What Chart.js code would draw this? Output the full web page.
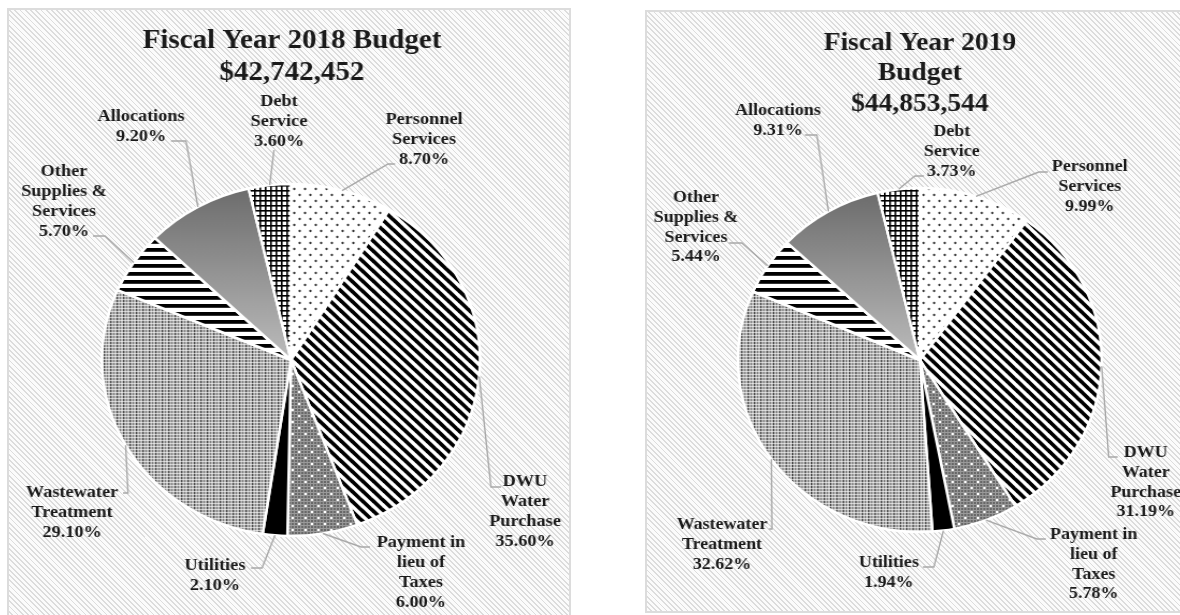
<!DOCTYPE html>
<html>
<head>
<meta charset="utf-8">
<title>Fiscal Year Budgets</title>
<script src="https://cdn.jsdelivr.net/npm/chart.js@4.4.1/dist/chart.umd.min.js"></script>
<style>
  html, body { margin: 0; padding: 0; background: #fff; width: 1180px; height: 615px; overflow: hidden; position: relative; }
  .panel {
    position: absolute; box-sizing: border-box; border: 2px solid #dcdcdc;
    background: repeating-linear-gradient(45deg, #fbfbfb 0px, #fbfbfb 2.4px, #dcdcdc 2.4px, #dcdcdc 3.7px);
  }
  canvas { position: absolute; }
</style>
</head>
<body>
<div class="panel" style="left:7px; top:8px; width:564px; height:620px;"></div>
<div class="panel" style="left:645px; top:10px; width:580px; height:603px;"></div>
<canvas id="fy2018"></canvas>
<canvas id="fy2019"></canvas>
<script>
// Budget categories, clockwise from twelve o'clock
const categories = [
  'Personnel Services', 'DWU Water Purchase', 'Payment in lieu of Taxes', 'Utilities',
  'Wastewater Treatment', 'Other Supplies & Services', 'Allocations', 'Debt Service'
];
// How each category name wraps in its data label
const labelLines = [
  ['Personnel', 'Services'], ['DWU', 'Water', 'Purchase'], ['Payment in', 'lieu of', 'Taxes'],
  ['Utilities'], ['Wastewater', 'Treatment'], ['Other', 'Supplies &', 'Services'],
  ['Allocations'], ['Debt', 'Service']
];
// Share of the total budget, percent
const share2018 = [8.70, 35.60, 6.00, 2.10, 29.10, 5.70, 9.20, 3.60];
const share2019 = [9.99, 31.19, 5.78, 1.94, 32.62, 5.44, 9.31, 3.73];
// Chart headings
const title2018 = ['Fiscal Year 2018 Budget', '$42,742,452'];
const title2019 = ['Fiscal Year 2019', 'Budget', '$44,853,544'];

// Label placement: offsets (px) of each label and its leader bend from the pie centre
const layout2018 = [
  { at: [133, -240], bend: [97, -196], end: [104, -196] },
  { at: [234, 122], bend: [200, 127], end: [210, 127] },
  { at: [130, 183], bend: [70, 187], end: [79, 187] },
  { at: [-76, 206], bend: [-29, 208], end: [-40, 208] },
  { at: [-219, 133], bend: [-163, 133], end: [-168, 133] },
  { at: [-227, -188], bend: [-186, -124], end: [-198, -124] },
  { at: [-150, -243], bend: [-105, -219], end: [-120, -219] },
  { at: [-12, -258], bend: [-17, -210], end: [-17, -210] }
];
const layout2019 = [
  { at: [170, -193], bend: [119, -188], end: [128, -188] },
  { at: [226, 93], bend: [189, 97], end: [198, 97] },
  { at: [174, 175], bend: [117, 179], end: [126, 179] },
  { at: [-31, 203], bend: [14, 207], end: [3, 207] },
  { at: [-198, 165], bend: [-148, 169], end: [-151, 169] },
  { at: [-224, -162], bend: [-178, -117], end: [-191, -117] },
  { at: [-142, -249], bend: [-103, -225], end: [-115, -225] },
  { at: [32, -228], bend: [-5, -184], end: [4, -184] }
];

function tile(w, h, paint) {
  const c = document.createElement('canvas');
  c.width = w; c.height = h;
  const g = c.getContext('2d');
  paint(g, w, h);
  return c;
}

// Monochrome fills for the slices
function makeFills(ctx, cx, cy, r) {
  const dots = tile(10, 12, (g) => {
    g.fillStyle = '#ffffff'; g.fillRect(0, 0, 10, 12);
    g.fillStyle = '#333333';
    g.beginPath(); g.arc(2.5, 3, 1.15, 0, Math.PI * 2); g.fill();
    g.beginPath(); g.arc(7.5, 9, 1.15, 0, Math.PI * 2); g.fill();
  });
  const diag = tile(10, 10, (g) => {
    g.fillStyle = '#ffffff'; g.fillRect(0, 0, 10, 10);
    g.strokeStyle = '#000000'; g.lineWidth = 3.7;
    for (const s of [-10, 0, 10]) {
      g.beginPath(); g.moveTo(s - 2, -2); g.lineTo(s + 12, 12); g.stroke();
    }
  });
  const darkGrid = tile(12, 12, (g) => {
    g.fillStyle = '#686868'; g.fillRect(0, 0, 12, 12);
    g.fillStyle = '#9a9a9a';
    for (let i = 0; i < 12; i += 3) { g.fillRect(i, 0, 1, 12); g.fillRect(0, i, 12, 1); }
    g.fillStyle = '#ffffff';
    g.fillRect(1, 1, 2, 2); g.fillRect(7, 7, 2, 2);
  });
  const vLines = tile(6, 3, (g) => {
    g.fillStyle = '#b9b9b9'; g.fillRect(0, 0, 6, 3);
    g.fillStyle = '#4c4c4c'; g.fillRect(0, 0, 1.3, 3);
    g.fillStyle = '#808080'; g.fillRect(3, 0, 1, 3);
    g.fillStyle = 'rgba(255,255,255,0.6)'; g.fillRect(0, 2, 6, 1);
  });
  const hLines = tile(4, 8, (g) => {
    g.fillStyle = '#ffffff'; g.fillRect(0, 0, 4, 8);
    g.fillStyle = '#000000'; g.fillRect(0, 0, 4, 3.8);
  });
  const cross = tile(5, 5, (g) => {
    g.fillStyle = '#ffffff'; g.fillRect(0, 0, 5, 5);
    g.fillStyle = '#000000'; g.fillRect(0, 0, 1.6, 5); g.fillRect(0, 0, 5, 1.6);
  });
  const shade = ctx.createLinearGradient(0, cy - r, 0, cy);
  shade.addColorStop(0, '#6a6a6a');
  shade.addColorStop(1, '#bcbcbc');
  return [
    ctx.createPattern(dots, 'repeat'),
    ctx.createPattern(diag, 'repeat'),
    ctx.createPattern(darkGrid, 'repeat'),
    '#000000',
    ctx.createPattern(vLines, 'repeat'),
    ctx.createPattern(hLines, 'repeat'),
    shade,
    ctx.createPattern(cross, 'repeat')
  ];
}

// Titles, category labels and leader lines
const budgetLabels = {
  id: 'budgetLabels',
  afterDraw(chart, args, opts) {
    const ctx = chart.ctx;
    const meta = chart.getDatasetMeta(0);
    const sx = opts.sx, cx = opts.cx, cy = opts.cy;
    const px = (dx) => cx + dx / sx;
    ctx.save();
    ctx.textAlign = 'center';
    ctx.textBaseline = 'middle';
    ctx.fillStyle = '#1a1a1a';
    ctx.font = 'bold ' + opts.titleSize + 'px "Liberation Serif", "Times New Roman", serif';
    opts.title.forEach((t, i) => ctx.fillText(t, px(opts.titleX), opts.titleY + i * opts.titleGap));

    const values = chart.data.datasets[0].data;
    meta.data.forEach((arc, i) => {
      const lay = opts.layout[i];
      const mid = (arc.startAngle + arc.endAngle) / 2;
      const sxp = arc.x + Math.cos(mid) * arc.outerRadius;
      const syp = arc.y + Math.sin(mid) * arc.outerRadius;
      ctx.strokeStyle = '#a8a8a8';
      ctx.lineWidth = 1.4;
      ctx.beginPath();
      ctx.moveTo(sxp, syp);
      ctx.lineTo(px(lay.bend[0]), cy + lay.bend[1]);
      ctx.lineTo(px(lay.end[0]), cy + lay.end[1]);
      ctx.stroke();

      const lines = labelLines[i].concat([values[i].toFixed(2) + '%']);
      ctx.font = 'bold ' + opts.labelSize + 'px "Liberation Serif", "Times New Roman", serif';
      ctx.fillStyle = '#1a1a1a';
      lines.forEach((t, k) => ctx.fillText(t, px(lay.at[0]), cy + lay.at[1] + k * opts.lineGap));
    });
    ctx.restore();
  }
};

function budgetPie(id, values, spec) {
  const cv = document.getElementById(id);
  cv.width = spec.drawW;
  cv.height = spec.drawH;
  cv.style.left = spec.left + 'px';
  cv.style.top = spec.top + 'px';
  cv.style.width = (spec.drawW * spec.sx) + 'px';
  cv.style.height = spec.drawH + 'px';

  const cx = (spec.centerX - spec.left) / spec.sx;
  const cy = spec.centerY - spec.top;
  const bw = 2.5;
  const half = spec.radius + bw / 2;
  const ctx = cv.getContext('2d');

  return new Chart(cv, {
    type: 'pie',
    data: {
      labels: categories,
      datasets: [{
        data: values,
        backgroundColor: makeFills(ctx, cx, cy, spec.radius),
        borderColor: '#ffffff',
        borderWidth: bw
      }]
    },
    options: {
      responsive: false,
      devicePixelRatio: 1,
      animation: false,
      events: [],
      layout: {
        padding: {
          left: cx - half,
          right: spec.drawW - cx - half,
          top: cy - half,
          bottom: spec.drawH - cy - half
        }
      },
      plugins: {
        legend: { display: false },
        tooltip: { enabled: false },
        title: { display: false },
        budgetLabels: {
          sx: spec.sx, cx: cx, cy: cy,
          title: spec.title, titleSize: spec.titleSize,
          titleX: spec.titleX, titleY: spec.titleY - spec.top, titleGap: spec.titleGap,
          labelSize: 17, lineGap: spec.lineGap, layout: spec.layout
        }
      }
    },
    plugins: [budgetLabels]
  });
}

budgetPie('fy2018', share2018, {
  left: 7, top: 0, drawW: 527, drawH: 615, sx: 1.074,
  centerX: 291, centerY: 360, radius: 176,
  title: title2018, titleSize: 27, titleX: 1, titleY: 41, titleGap: 32,
  lineGap: 20, layout: layout2018
});
budgetPie('fy2019', share2019, {
  left: 646, top: 0, drawW: 540, drawH: 615, sx: 1.058,
  centerX: 920, centerY: 360, radius: 172,
  title: title2019, titleSize: 26, titleX: 0, titleY: 43, titleGap: 30.5,
  lineGap: 19.7, layout: layout2019
});
</script>
</body>
</html>
